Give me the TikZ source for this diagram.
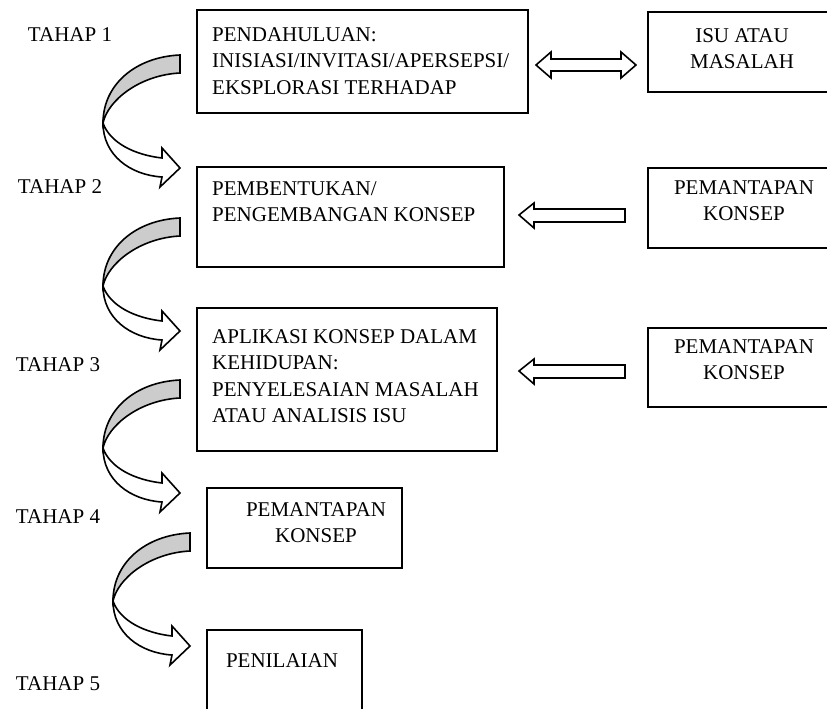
\documentclass[tikz,border=0pt]{standalone}
\usepackage{fontspec}
\setmainfont{Liberation Serif}
\usetikzlibrary{calc}
\tikzset{
  box/.style={draw, line width=2pt, inner sep=0pt},
  txt/.style={inner sep=0pt, font=\fontsize{21}{26.5}\selectfont},
  blockline/.style={draw, line width=1.6pt, fill=white},
  turnarrow/.pic={
    \draw [line width=1.6pt, fill=black!20] (0,0) .. controls (-45,2) and (-77,30) .. (-77,68) .. controls (-72,45) and (-40,20) .. (0,18) -- cycle;
    \draw [line width=1.6pt, fill=white] (-77,68) .. controls (-77,100) and (-50,120) .. (-18,122) -- (-20,132) -- (0,113) -- (-18,93) -- (-18,103) .. controls (-45,100) and (-70,88) .. (-77,68) -- cycle;
  }
}
% hollow block arrow pointing left: #1 tip, #2 tail
\newcommand{\hollowleft}[2]{%
  \draw [blockline] let \p1=(#1), \p2=(#2) in
    (\p1) -- (\x1+15pt,\y1+12pt) -- (\x1+15pt,\y1+6pt) -- (\x2,\y1+6pt)
    -- (\x2,\y1-7pt) -- (\x1+15pt,\y1-7pt) -- (\x1+15pt,\y1-13pt) -- cycle;}
% hollow block arrow with two heads
\newcommand{\hollowboth}[2]{%
  \draw [blockline] let \p1=(#1), \p2=(#2) in
    (\p1) -- (\x1+15pt,\y1+13pt) -- (\x1+15pt,\y1+6pt) -- (\x2-15pt,\y1+6pt)
    -- (\x2-15pt,\y1+13pt) -- (\x2,\y1) -- (\x2-15pt,\y1-13pt) -- (\x2-15pt,\y1-6pt)
    -- (\x1+15pt,\y1-6pt) -- (\x1+15pt,\y1-13pt) -- cycle;}
\begin{document}
\begin{tikzpicture}[x=1pt,y=-1pt]
  \clip (0,0) rectangle (827,709);
  % boxes
  \node [box, minimum width=331pt, minimum height=103pt] (b1) at (362.5,61.5) {};
  \node [box, minimum width=196pt, minimum height=80pt] (isu) at (746,52) {};
  \node [box, minimum width=307pt, minimum height=100pt] (b2) at (350.5,217) {};
  \node [box, minimum width=196pt, minimum height=80pt] (pm1) at (746,208) {};
  \node [box, minimum width=300pt, minimum height=143pt] (b3) at (347,379.5) {};
  \node [box, minimum width=196pt, minimum height=79pt] (pm2) at (746,367.5) {};
  \node [box, minimum width=195pt, minimum height=80pt] (b4) at (304.5,528) {};
  \node [box, minimum width=155pt, minimum height=80pt] (b5) at (284.5,670) {};
  % texts
  \node [txt, anchor=north west, align=left] (t1) at (212,27) {PENDAHULUAN:\\INISIASI/INVITASI/APERSEPSI/\\EKSPLORASI TERHADAP};
  \node [txt, anchor=north west, align=left] (t2) at (212,181) {PEMBENTUKAN/\\PENGEMBANGAN KONSEP};
  \node [txt, anchor=north west, align=left] (t3) at (212,329) {APLIKASI KONSEP DALAM\\KEHIDUPAN:\\PENYELESAIAN MASALAH\\ATAU ANALISIS ISU};
  \node [txt, anchor=north, align=center] (t4) at (316,502) {PEMANTAPAN\\KONSEP};
  \node [txt, anchor=north, align=center] (t5) at (282,653) {PENILAIAN};
  \node [txt, anchor=north, align=center] (tisu) at (742,28) {ISU ATAU\\MASALAH};
  \node [txt, anchor=north, align=center] (tpm1) at (744,180) {PEMANTAPAN\\KONSEP};
  \node [txt, anchor=north, align=center] (tpm2) at (744,339) {PEMANTAPAN\\KONSEP};
  % stages
  \node [txt] (tahap1) at (70,35) {TAHAP 1};
  \node [txt] (tahap2) at (60,187) {TAHAP 2};
  \node [txt] (tahap3) at (58,365) {TAHAP 3};
  \node [txt] (tahap4) at (58,517) {TAHAP 4};
  \node [txt] (tahap5) at (58,684) {TAHAP 5};
  % curved arrows
  \pic at (180,55) {turnarrow};
  \pic at (180,218) {turnarrow};
  \pic at (180,380) {turnarrow};
  \pic at (190,533) {turnarrow};
  % block arrows
  \hollowboth{$(b1.east)+(7,3.5)$}{$(isu.west)+(-11,0)$}
  \hollowleft{$(b2.east)+(14,-2)$}{$(pm1.west)+(-22,0)$}
  \hollowleft{$(b3.east)+(21,-8.5)$}{$(pm2.west)+(-22,0)$}
\end{tikzpicture}
\end{document}
